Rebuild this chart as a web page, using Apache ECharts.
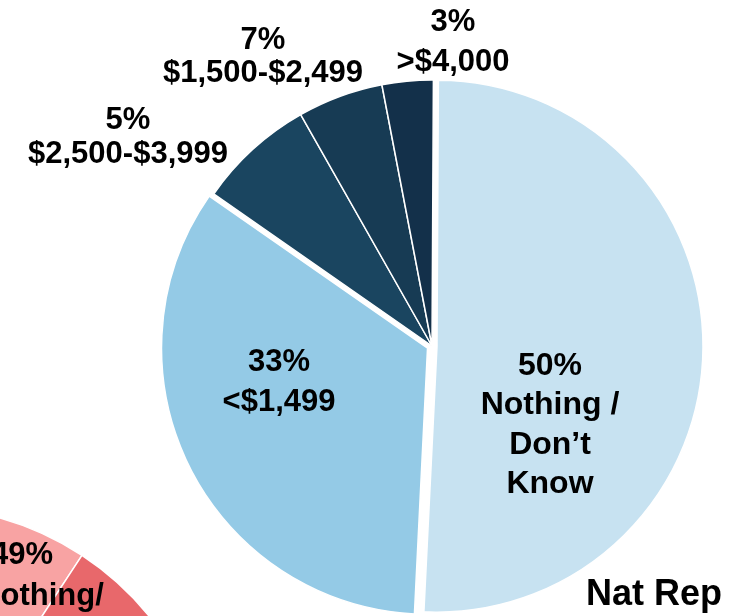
<!DOCTYPE html>
<html>
<head>
<meta charset="utf-8">
<script src="https://cdn.jsdelivr.net/npm/echarts@6/dist/echarts.min.js"></script>
<style>
html, body { margin: 0; background: #fff; }
#main { width: 740px; height: 616px; }
</style>
</head>
<body>
<div id="main"></div>
<script>
// national sample, clockwise from 12 o'clock
var natNames = ['Nothing / Don\u2019t Know', '<$1,499', '$2,500-$3,999', '$1,500-$2,499', '>$4,000'];
var natValues = [50.7, 33.9, 7.1, 5.2, 3.1];
var natLabels = ['50%\nNothing /\nDon\u2019t\nKnow', '33%\n<$1,499', '5%\n$2,500-$3,999', '7%\n$1,500-$2,499', '3%\n>$4,000'];
var natExploded = [true, true, false, false, false];

// second pie, only a corner of it shows at bottom left
var otherNames = ['Nothing / Don\u2019t Know', 'Other'];
var otherValues = [49, 51];

var natColors = ['#c7e2f1', '#94cae6', '#1a4560', '#173b54', '#13304a'];
var otherColors = ['#f8a3a3', '#e8686b'];
var labelSpots = [[550, 425], [279, 382], [128, 137], [263, 57], [453, 42]];
var labelLineHeights = [39.5, 40, 34, 33, 40];
var labelSizes = [32, 31, 31, 31, 31];

var CX = 432, CY = 346, R = 266, START = 89.7, EXPLODE = 5;

var chart = echarts.init(document.getElementById('main'));

// one layer per exploded slice (shifted along its mid angle), plus one for the rest
function natLayer(which) {
  var total = natValues.reduce(function (a, b) { return a + b; }, 0);
  var cx = CX, cy = CY;
  if (which >= 0) {
    var before = 0;
    for (var k = 0; k < which; k++) before += natValues[k];
    var mid = (90 - START) + 360 * (before + natValues[which] / 2) / total;
    var rad = mid * Math.PI / 180;
    cx = CX + EXPLODE * Math.sin(rad);
    cy = CY - EXPLODE * Math.cos(rad);
  }
  var data = natValues.map(function (v, i) {
    var mine = which >= 0 ? i === which : !natExploded[i];
    return {
      name: natNames[i],
      value: v,
      itemStyle: mine
        ? { color: natColors[i], borderColor: '#fff', borderWidth: 1.5 }
        : { color: 'rgba(0,0,0,0)', borderWidth: 0 },
      label: {
        show: mine,
        formatter: natLabels[i],
        lineHeight: labelLineHeights[i],
        fontSize: labelSizes[i]
      }
    };
  });
  return {
    type: 'pie',
    center: [cx, cy],
    radius: R,
    startAngle: START,
    silent: true,
    label: { position: 'inside', fontFamily: 'Liberation Sans', fontWeight: 'bold', color: '#000', align: 'center' },
    labelLine: { show: false },
    labelLayout: function (params) {
      var p = labelSpots[params.dataIndex];
      return { x: p[0], y: p[1], align: 'center', verticalAlign: 'middle' };
    },
    data: data,
    z: 2
  };
}

var otherData = otherValues.map(function (v, i) {
  return { name: otherNames[i], value: v, itemStyle: { color: otherColors[i] } };
});

var series = [{
  type: 'pie',
  center: [-80, 802],
  radius: 295,
  startAngle: 233.1,
  silent: true,
  label: { show: false },
  labelLine: { show: false },
  itemStyle: { borderColor: '#fff', borderWidth: 1.5 },
  data: otherData,
  z: 1
}, natLayer(-1)];
natExploded.forEach(function (e, i) { if (e) series.push(natLayer(i)); });

var txt = { fontFamily: 'Liberation Sans', fontWeight: 'bold', fill: '#000', verticalAlign: 'middle' };

chart.setOption({
  animation: false,
  graphic: [
    { type: 'text', z: 100, x: 22, y: 555, style: Object.assign({ text: '49%', fontSize: 31, align: 'center' }, txt) },
    { type: 'text', z: 100, x: 41, y: 596, style: Object.assign({ text: 'Nothing/', fontSize: 31, align: 'center' }, txt) },
    { type: 'text', z: 100, x: 722, y: 595, style: Object.assign({ text: 'Nat Rep', fontSize: 36, align: 'right' }, txt) }
  ],
  series: series
});
</script>
</body>
</html>
